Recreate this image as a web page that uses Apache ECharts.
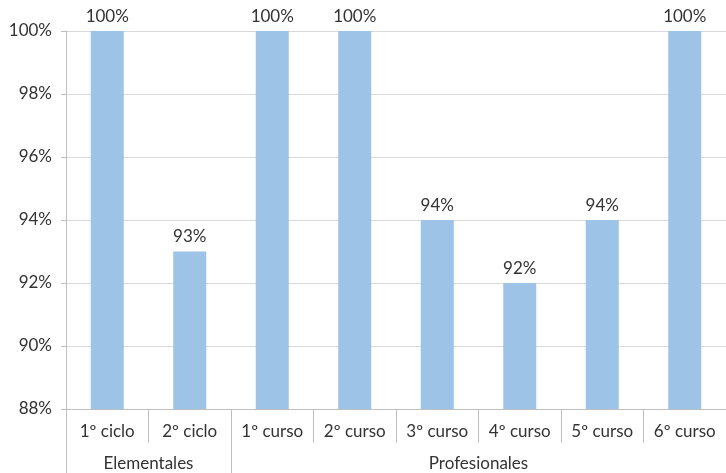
<!DOCTYPE html>
<html lang="es">
<head>
<meta charset="UTF-8">
<title>Porcentaje</title>
<style>
  * { margin: 0; }
  html, body { width: 726px; height: 473px; background: #fff; }
  #chart { width: 726px; height: 473px; }
</style>
<script src="https://cdn.jsdelivr.net/npm/echarts@6/dist/echarts.min.js"></script>
</head>
<body>
<div id="chart"></div>
<script>
  // categorias y valores (%)
  const categories = ['1º ciclo', '2º ciclo', '1º curso', '2º curso', '3º curso', '4º curso', '5º curso', '6º curso'];
  const values = [100, 93, 100, 100, 94, 92, 94, 100];
  const groupNames = ['Elementales', 'Profesionales'];
  const groupCenters = [1, 5];   // en unidades de categoria
  const groupEdges = [0, 2];

  const txt = '#333333';
  const axisGray = '#bfbfbf';
  const font = 'Lato, "Open Sans", sans-serif';

  const chart = echarts.init(document.getElementById('chart'));
  chart.setOption({
    animation: false,
    grid: { left: 66, top: 31, width: 665, bottom: 64 },
    xAxis: [
      {
        type: 'category',
        data: categories,
        boundaryGap: true,
        axisLine: { lineStyle: { color: axisGray, width: 1 } },
        axisTick: { show: true, interval: 0, length: 34, lineStyle: { color: axisGray } },
        axisLabel: { color: txt, fontSize: 17, fontFamily: font, margin: 14, interval: 0 }
      },
      {
        type: 'value',
        position: 'bottom',
        min: 0,
        max: 8,
        axisLine: { show: false },
        splitLine: { show: false },
        axisTick: { show: true, customValues: groupEdges, length: 66, lineStyle: { color: axisGray } },
        axisLabel: {
          show: true,
          customValues: groupCenters,
          margin: 46,
          color: txt, fontSize: 17, fontFamily: font,
          formatter: function (v) { return groupNames[groupCenters.indexOf(v)] || ''; }
        }
      }
    ],
    yAxis: {
      type: 'value',
      min: 88,
      max: 100,
      interval: 2,
      axisLine: { show: true, lineStyle: { color: axisGray } },
      axisTick: { show: true, length: 5, lineStyle: { color: axisGray } },
      splitLine: { lineStyle: { color: '#d9d9d9' } },
      axisLabel: { color: txt, fontSize: 17, fontFamily: font, margin: 14, formatter: '{value}%' }
    },
    series: [{
      type: 'bar',
      data: values,
      barWidth: '40%',
      itemStyle: { color: '#9dc3e6' },
      label: { show: true, position: 'top', distance: 6, color: txt, fontSize: 17, fontFamily: font, formatter: '{c}%' }
    }]
  });
</script>
</body>
</html>
